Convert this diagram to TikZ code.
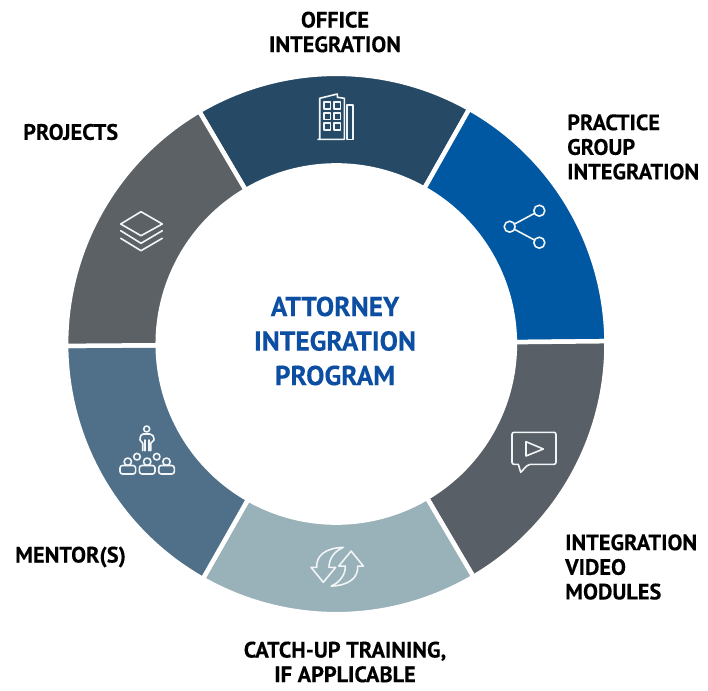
\documentclass[tikz,border=0pt]{standalone}
\usepackage{fontspec}
\setmainfont{PT Sans}[BoldFeatures={FakeBold=0.25}]
\definecolor{officec}{HTML}{264A66}
\definecolor{practicec}{HTML}{0058A3}
\definecolor{videoc}{HTML}{595F66}
\definecolor{catchc}{HTML}{99B1B8}
\definecolor{mentorc}{HTML}{4F7088}
\definecolor{projectc}{HTML}{5C6166}
\definecolor{titlec}{HTML}{0B4EA2}
\definecolor{iconc}{HTML}{F2F5F7}
\newcommand{\ringseg}[3]{%
  \filldraw[segment,fill=#1] (#2:270.2pt) arc[start angle=#2,end angle=#3,radius=270.2pt]
    -- (#3:178.6pt) arc[start angle=#3,end angle=#2,radius=178.6pt] -- cycle;}
\tikzset{
  segment/.style={draw=white,line width=4.5pt,line join=miter},
  label/.style={inner sep=0pt,font=\bfseries\fontsize{22.3}{24.6}\selectfont,text=black},
  title/.style={inner sep=0pt,align=center,font=\bfseries\fontsize{27.4}{34.5}\selectfont,text=titlec},
  icon/.style={draw=iconc,line width=1.6pt,line join=round,line cap=round}
}
\begin{document}
\begin{tikzpicture}[x=1pt,y=-1pt]
\useasboundingbox (0,0) rectangle (708,690);
\fill[white] (0,0) rectangle (708,690);
\begin{scope}[shift={(336.3,344)}]
  \ringseg{officec}{60.5}{120.5}
  \ringseg{practicec}{0.6}{60.5}
  \ringseg{videoc}{-59.5}{0.6}
  \ringseg{catchc}{240.4}{300.5}
  \ringseg{mentorc}{180.4}{240.4}
  \ringseg{projectc}{120.5}{180.4}
\end{scope}
% texts
\node[title] (centre) at (335,341) {ATTORNEY\\INTEGRATION\\PROGRAM};
\node[label,align=center] (office) at (335,32) {OFFICE\\INTEGRATION};
\node[label,align=left,anchor=west] (practice) at (567,147) {PRACTICE\\GROUP\\INTEGRATION};
\node[label,align=left,anchor=west] (video) at (565,567) {INTEGRATION\\VIDEO\\MODULES};
\node[label,align=center] (catch) at (345,662) {CATCH-UP TRAINING,\\IF APPLICABLE};
\node[label,anchor=west] (mentor) at (15,557) {MENTOR(S)};
\node[label,anchor=west] (projects) at (23,132) {PROJECTS};
% building
\draw[icon] (318,139.3) -- (344.3,139.3) -- (344.3,98.3) -- (337.3,97.3) -- (337.3,94) -- (319.7,98.3) -- (319.7,139.3);
\draw[icon] (346.7,105) rectangle (353,139.3);
\foreach \wx in {324,333.7}\foreach \wy in {102.3,112.7,123}
  \draw[icon] (\wx,\wy) rectangle ++(6.6,6.7);
% share
\draw[icon] (509.7,226.7) circle[radius=5.5];
\draw[icon] (539.3,210.7) circle[radius=5.5];
\draw[icon] (539.3,242.7) circle[radius=5.5];
\draw[icon] (514.6,224) -- (534.4,213.4);
\draw[icon] (514.6,229.4) -- (534.4,240);
% video
\draw[icon,rounded corners=2pt] (512,432.3) -- (556,432.3) -- (556,464.3) -- (528.3,464.3)
  [sharp corners] -- (520.7,472.3) -- (518.3,464.3) [rounded corners=2pt] -- (512,464.3) -- cycle;
\draw[icon] (526,441.7) -- (543.3,449) -- (526,456) -- cycle;
% refresh
\foreach \rr in {0,180}
  \draw[icon,rotate around={\rr:(337.2,566.7)}] (343.3,547.3) .. controls (325,548) and (316,556) .. (316.7,567.3)
    -- (311,567.3) -- (323.3,582.3) -- (335.7,567.3) -- (329,567.3)
    .. controls (329,558) and (335,551) .. (343.3,547.3) -- cycle;
% mentor
\draw[icon] (146.7,429) circle[radius=3];
\draw[icon] (142.7,450.7) -- (142.7,443.3) -- (140,440) .. controls (140,436) and (141.5,434) .. (143,434)
  -- (150,434) .. controls (152,434) and (154,436) .. (154,440) -- (150.7,443.3) -- (150.7,450.7);
\draw[icon] (144.7,440) -- (144.7,450.7);
\draw[icon] (148.8,440) -- (148.8,450.7);
\draw[icon] (137,456.7) circle[radius=3.3];
\draw[icon] (156.7,456.7) circle[radius=3.3];
\foreach \px in {127.8,147.2,166.5}{
  \draw[icon] (\px,461.7) circle[radius=3.7];
  \draw[icon,rounded corners=2.5pt] (\px-7.8,474) rectangle (\px+7.8,465.5);
}
% layers
\draw[icon] (120.7,224) -- (141,211.7) -- (162.3,224) -- (141,235.7) -- cycle;
\draw[icon] (120.7,230.7) -- (141,243.3) -- (162.3,230.7);
\draw[icon] (120.7,238.3) -- (141,250.7) -- (162.3,238.3);
\end{tikzpicture}
\end{document}
